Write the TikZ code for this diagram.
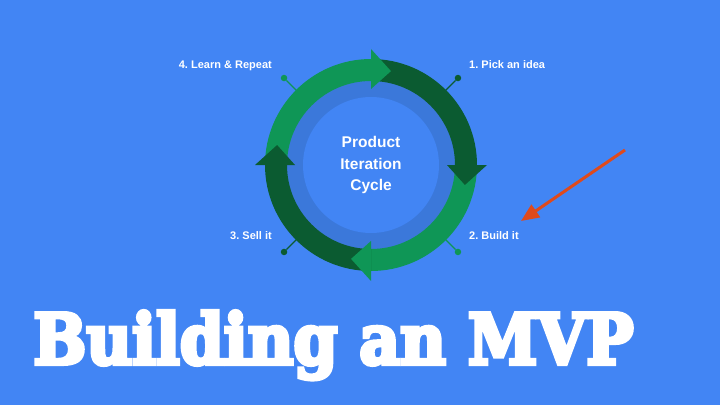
\documentclass[tikz,border=0pt]{standalone}
\usepackage{fontspec}
\setmainfont{Liberation Sans}
\newfontfamily\titlefont{DejaVu Serif Bold}[FakeBold=6]
\usetikzlibrary{arrows.meta}
\frenchspacing
\definecolor{bg}{HTML}{4285F4}
\definecolor{ringshade}{HTML}{3B78DA}
\definecolor{lg}{HTML}{0F9656}
\definecolor{dg}{HTML}{0B5B31}
\definecolor{redarrow}{HTML}{DF4A1C}
\tikzset{
  dotnode/.style={circle, inner sep=0pt, minimum size=6.5pt},
  tick/.style={line width=1.4pt},
  label/.style={text=white, font=\bfseries\fontsize{11}{13}\selectfont, inner sep=0pt},
  center/.style={text=white, font=\bfseries\fontsize{15.5}{21.5}\selectfont, align=center, inner sep=0pt},
}
\begin{document}
\begin{tikzpicture}[x=1pt,y=1pt]
\useasboundingbox (0,0) rectangle (720,405);
\fill[bg] (0,0) rectangle (720,405);
\begin{scope}[shift={(371,240)}]
  \fill[ringshade] (0,0) circle (86pt);
  \fill[bg] (0,0) circle (68pt);
  % arc bodies
  \fill[lg] (180:106) arc[start angle=180,end angle=90,radius=106pt] -- (90:84) arc[start angle=90,end angle=180,radius=84pt] -- cycle;
  \fill[dg] (90:106) arc[start angle=90,end angle=0,radius=106pt] -- (0:84) arc[start angle=0,end angle=90,radius=84pt] -- cycle;
  \fill[lg] (0:106) arc[start angle=0,end angle=-90,radius=106pt] -- (-90:84) arc[start angle=-90,end angle=0,radius=84pt] -- cycle;
  \fill[dg] (-90:106) arc[start angle=-90,end angle=-180,radius=106pt] -- (-180:84) arc[start angle=-180,end angle=-90,radius=84pt] -- cycle;
  % heads
  \fill[lg] (90:76) -- (90:116) -- (78:96) -- cycle;
  \fill[dg] (0:76) -- (0:116) -- (-12:96) -- cycle;
  \fill[lg] (-90:76) -- (-90:116) -- (-102:96) -- cycle;
  \fill[dg] (180:76) -- (180:116) -- (168:96) -- cycle;
  % ticks
  \node[dotnode, fill=lg] (d4) at (135:123) {};
  \node[dotnode, fill=dg] (d1) at (45:123) {};
  \node[dotnode, fill=lg] (d2) at (-45:123) {};
  \node[dotnode, fill=dg] (d3) at (-135:123) {};
  \coordinate (r4) at (135:104);
  \coordinate (r1) at (45:104);
  \coordinate (r2) at (-45:104);
  \coordinate (r3) at (-135:104);
  \draw[tick, lg] (d4) -- (r4);
  \draw[tick, dg] (d1) -- (r1);
  \draw[tick, lg] (d2) -- (r2);
  \draw[tick, dg] (d3) -- (r3);
  \node[center] (ctr) at (0,0) {Product\\Iteration\\Cycle};
\end{scope}
\node[label, anchor=base east] (l4) at (272,336) {4. Learn \& Repeat};
\node[label, anchor=base west] (l1) at (469,336) {1. Pick an idea};
\node[label, anchor=base east] (l3) at (272,166) {3. Sell it};
\node[label, anchor=base west] (l2) at (469,166) {2. Build it};
\coordinate (ra) at (625,255);
\coordinate (rb) at (521,184);
\draw[redarrow, line width=3pt, -{Triangle[length=18pt,width=15pt]}] (ra) -- (rb);
\node[anchor=base west, inner sep=0pt, text=white] (title) at (33,41)
  {\resizebox{600pt}{53pt}{\titlefont Building an MVP}};
\end{tikzpicture}
\end{document}
